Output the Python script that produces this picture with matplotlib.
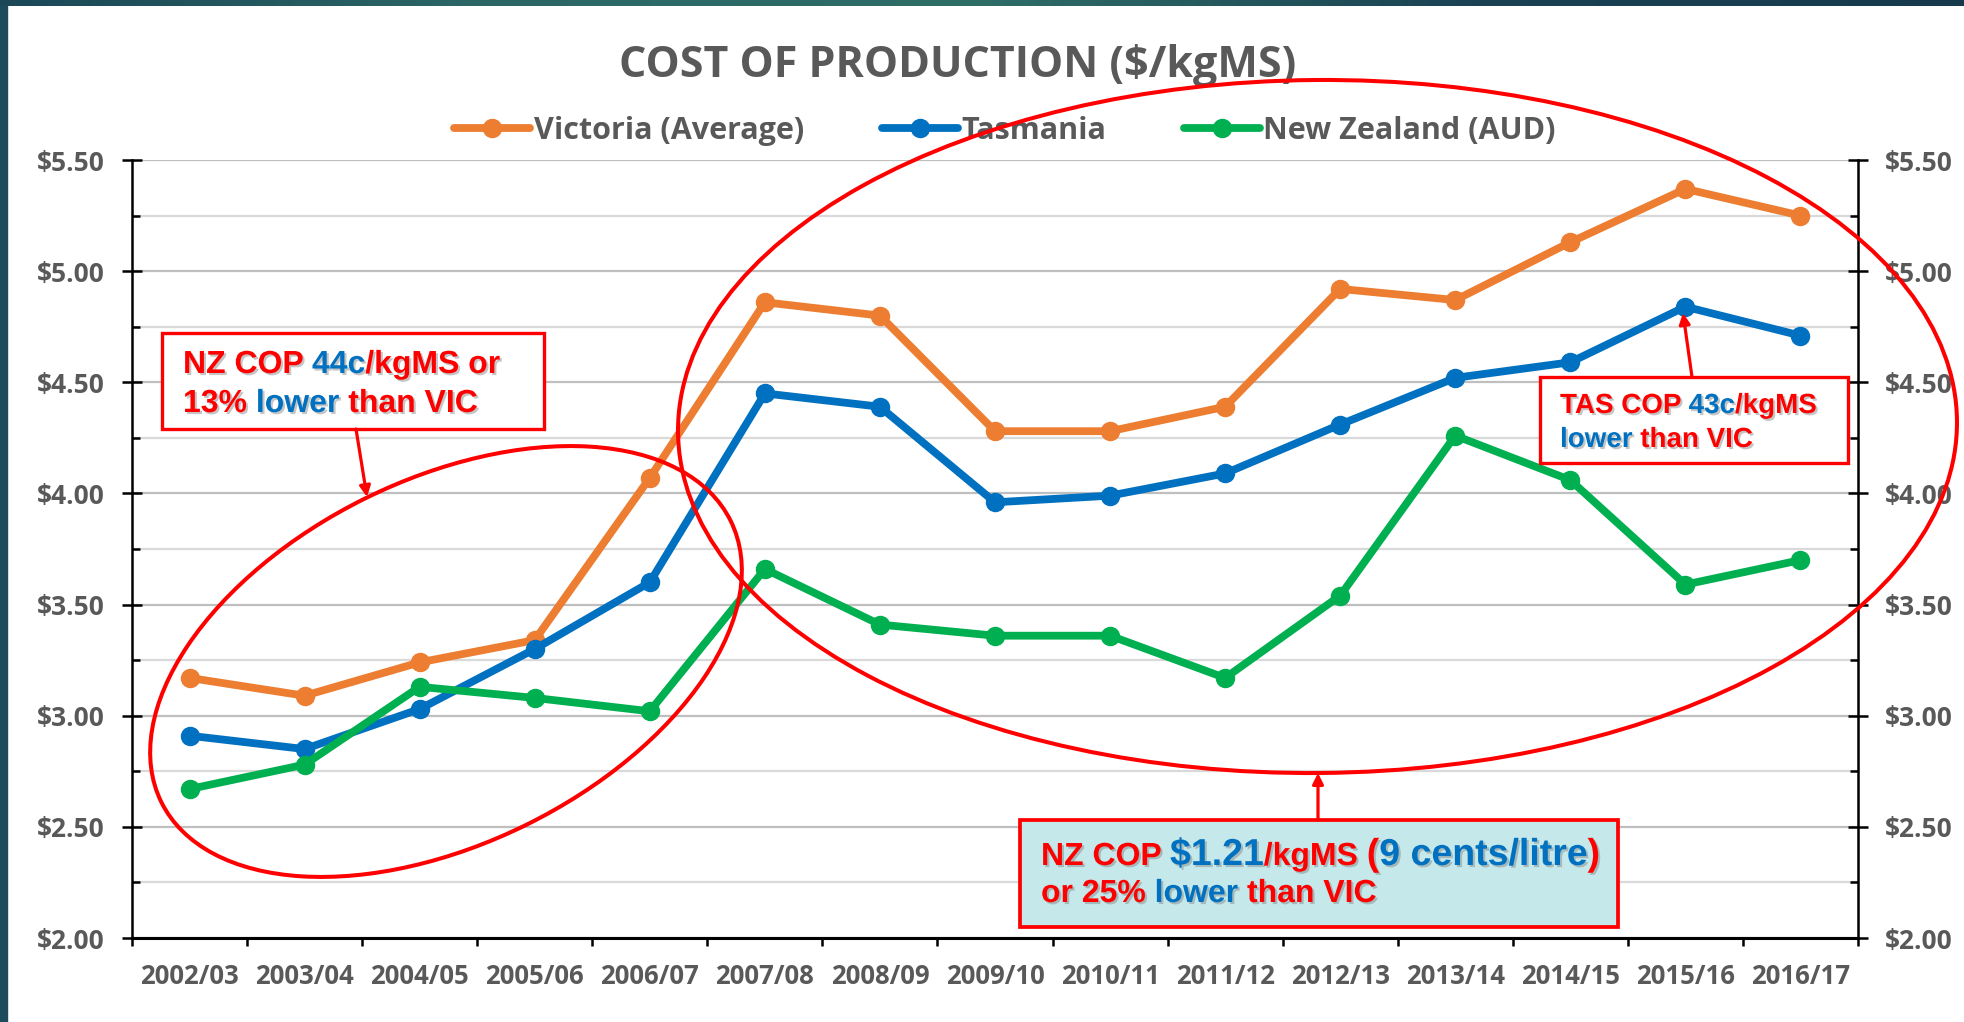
import numpy as np
import matplotlib
matplotlib.use("Agg")
import matplotlib.pyplot as plt
from matplotlib.patches import Ellipse, Rectangle, FancyArrowPatch
from matplotlib.transforms import Affine2D
from matplotlib.colors import LinearSegmentedColormap
import matplotlib.patheffects as pe

# ---------------- data ----------------
years = ["2002/03", "2003/04", "2004/05", "2005/06", "2006/07", "2007/08", "2008/09",
         "2009/10", "2010/11", "2011/12", "2012/13", "2013/14", "2014/15", "2015/16", "2016/17"]
victoria = [3.17, 3.09, 3.24, 3.34, 4.07, 4.86, 4.80, 4.28, 4.28, 4.39, 4.92, 4.87, 5.13, 5.37, 5.25]
tasmania = [2.91, 2.85, 3.03, 3.30, 3.60, 4.45, 4.39, 3.96, 3.99, 4.09, 4.31, 4.52, 4.59, 4.84, 4.71]
new_zealand = [2.67, 2.78, 3.13, 3.08, 3.02, 3.66, 3.41, 3.36, 3.36, 3.17, 3.54, 4.26, 4.06, 3.59, 3.70]
series_names = ["Victoria (Average)", "Tasmania", "New Zealand (AUD)"]
y_ticks = [2.0, 2.5, 3.0, 3.5, 4.0, 4.5, 5.0, 5.5]
title = "COST OF PRODUCTION ($/kgMS)"

# ---------------- style ----------------
plt.rcParams["font.family"] = ["Open Sans", "DejaVu Sans"]
W, H, DPI = 1964, 1022, 100
GRAY = "#595959"
RED = "#FF0000"
BLUE = "#0070C0"
colors = ["#ED7D31", "#0070C0", "#00B050"]

fig = plt.figure(figsize=(W / DPI, H / DPI), dpi=DPI)
fig.patch.set_facecolor("white")
# pixel transform, origin top-left
PX = Affine2D().scale(1 / DPI, -1 / DPI).translate(0, H / DPI) + fig.dpi_scale_trans

# decorative slide border (top gradient + left strip)
ax_top = fig.add_axes([0, 1 - 6 / H, 1, 6 / H])
cmap = LinearSegmentedColormap.from_list("b", ["#1b4757", "#2c6766", "#2f6d67", "#1a4253", "#163a4c"])
ax_top.imshow(np.linspace(0, 1, 256)[None, :], aspect="auto", cmap=cmap)
ax_top.axis("off")
fig.add_artist(Rectangle((0, 0), 7 / W, 1, transform=fig.transFigure, color="#1d4b5b", zorder=0))

# ---------------- main axes ----------------
ax = fig.add_axes([132 / W, 1 - 938 / H, (1858 - 132) / W, (938 - 160) / H])
x = np.arange(len(years))
for vals, name, c in zip([victoria, tasmania, new_zealand], series_names, colors):
    ax.plot(x, vals, color=c, lw=5.6, marker="o", ms=13, label=name, zorder=3,
            solid_joinstyle="round", solid_capstyle="round")

ax.set_xlim(-0.5, len(years) - 0.5)
ax.set_ylim(2.0, 5.5)
ax.set_yticks(y_ticks)
ax.set_yticklabels([f"${v:.2f}" for v in y_ticks])
ax.set_yticks(np.arange(2.25, 5.5, 0.5), minor=True)
ax.set_xticks(np.arange(-0.5, len(years), 1))
ax.set_xticklabels([])
ax.set_xticks(x, minor=True)
ax.set_xticklabels(years, minor=True)

ax.set_axisbelow(True)
ax.grid(True, which="major", axis="y", color="#BFBFBF", lw=1.6)
ax.grid(True, which="minor", axis="y", color="#D9D9D9", lw=1.6)

for side in ["left", "right"]:
    ax.spines[side].set_linewidth(1.8)
    ax.spines[side].set_color("black")
ax.spines["bottom"].set_linewidth(2.2)
ax.spines["top"].set_visible(False)

ax.tick_params(axis="y", which="major", direction="inout", length=15, width=1.8,
               left=True, right=True, labelleft=True, labelright=True,
               labelsize=19, labelcolor=GRAY, pad=12)
ax.tick_params(axis="y", which="minor", direction="in", length=6, width=1.8, left=True, right=True)
ax.tick_params(axis="x", which="major", direction="out", length=5.5, width=1.8, labelbottom=False)
ax.tick_params(axis="x", which="minor", length=0, labelsize=18.5, labelcolor=GRAY, pad=18)
for lab in ax.get_yticklabels() + ax.get_xticklabels(minor=True):
    lab.set_fontweight("bold")

# ---------------- title & legend ----------------
fig.text(958 / W, 1 - 77 / H, title, ha="center", va="baseline", fontsize=31,
         fontweight="bold", color=GRAY)
handles, labels = ax.get_legend_handles_labels()
fig.legend(handles, labels, loc="center", bbox_to_anchor=(1005 / W, 1 - 131 / H), ncol=3,
           frameon=False, handlelength=2.5, handletextpad=0.1, columnspacing=2.55,
           prop=dict(family="Open Sans", weight="bold", size=22), labelcolor=GRAY)

# ---------------- annotations ----------------
fig.add_artist(Ellipse((446, 661.5), 635, 364, angle=-26.3, transform=PX, fill=False,
                       ec="#FF0000", lw=2.9, zorder=20))
fig.add_artist(Ellipse((1317.5, 426.5), 1279, 693, angle=-0.5, transform=PX, fill=False,
                       ec="#FF0000", lw=2.9, zorder=20))

fig.add_artist(Rectangle((162, 333), 382, 96, transform=PX, fc="white", ec=RED, lw=2.4, zorder=21))
fig.add_artist(Rectangle((1540, 377), 308, 86, transform=PX, fc="white", ec=RED, lw=2.4, zorder=21))
fig.add_artist(Rectangle((1020, 820), 598, 107, transform=PX, fc="#C5E8EA", ec=RED, lw=2.7, zorder=21))

for a, b in [((356, 429), (367, 497)), ((1692, 377), (1683, 313)), ((1318, 820), (1318, 773))]:
    fig.add_artist(FancyArrowPatch(a, b, transform=PX, arrowstyle="-|>", mutation_scale=16,
                                   color=RED, lw=2.3, shrinkA=0, shrinkB=0, zorder=22))

renderer = fig.canvas.get_renderer()
shadow = [pe.SimplePatchShadow(offset=(1.5, -1.5), shadow_rgbFace="#808080", alpha=0.45), pe.Normal()]


def measure(s, size, family):
    t1 = fig.text(0, 0, s + ".", fontsize=size, fontweight="bold", family=family)
    t2 = fig.text(0, 0, ".", fontsize=size, fontweight="bold", family=family)
    w = t1.get_window_extent(renderer).width - t2.get_window_extent(renderer).width
    t1.remove()
    t2.remove()
    return w


def rich_line(x0, y_base, segs, family="Liberation Sans"):
    xx = x0
    for s, col, size in segs:
        fig.text(xx, y_base, s, transform=PX, ha="left", va="baseline", fontsize=size,
                 fontweight="bold", family=family, color=col, zorder=25, path_effects=shadow)
        xx += measure(s, size, family)


rich_line(183, 373, [("NZ COP ", RED, 23), ("44c", BLUE, 23), ("/kgMS or", RED, 23)])
rich_line(183, 412, [("13% ", RED, 23), ("lower ", BLUE, 23), ("than VIC", RED, 23)])

rich_line(1560, 413, [("TAS COP ", RED, 20), ("43c", BLUE, 20), ("/kgMS", RED, 20)])
rich_line(1560, 447, [("lower ", BLUE, 20), ("than VIC", RED, 20)])

rich_line(1041, 865, [("NZ COP ", RED, 23), ("$1.21", BLUE, 27), ("/kgMS ", RED, 23),
                      ("(", RED, 27), ("9 cents/litre", BLUE, 27), (")", RED, 27)])
rich_line(1041, 902, [("or 25% ", RED, 23), ("lower ", BLUE, 23), ("than VIC", RED, 23)])

fig.savefig("out.png", dpi=DPI, facecolor="white")
